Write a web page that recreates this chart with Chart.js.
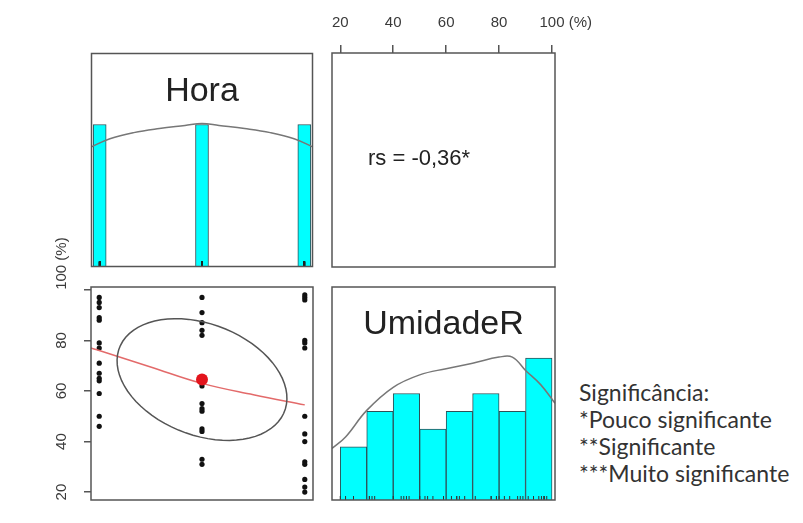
<!DOCTYPE html>
<html>
<head>
<meta charset="utf-8">
<script src="https://cdn.jsdelivr.net/npm/chart.js@4.4.1/dist/chart.umd.min.js"></script>
<style>
	body { margin: 0; background: #fff; }
	#figura { position: relative; width: 803px; height: 523px; overflow: hidden; background: #fff; }
	#figura canvas { position: absolute; }
	#nota { position: absolute; left: 579px; top: 379px; font: 23px Lato, sans-serif; line-height: 27px; color: #333; }
</style>
</head>
<body>
<div id="figura">
	<canvas id="painel_hora"></canvas>
	<canvas id="painel_correlacao"></canvas>
	<canvas id="painel_dispersao"></canvas>
	<canvas id="painel_umidade"></canvas>
	<div id="nota">Significância:<br>*Pouco significante<br>**Significante<br>***Muito significante</div>
</div>
<script>
// Níveis de hora e umidade relativa (%) observada em cada um.
const horaNiveis = [ 9, 12, 15 ];
const umidadeHora9 = [ 97, 95, 93, 89, 88, 79, 77, 71, 67, 65, 64, 59, 50, 46 ];
const umidadeHora12 = [ 97, 91, 87, 84, 82, 64, 62, 55, 53, 52, 45, 44, 33, 31 ];
const umidadeHora15 = [ 98, 97, 96, 80, 79, 77, 50, 43, 40, 32, 31, 25, 22, 20 ];

// Histograma da UmidadeR : centro das classes de 10 % e contagens.
const classesUmidade = [ 25, 35, 45, 55, 65, 75, 85, 95 ];
const contagemUmidade = [ 3, 5, 6, 4, 5, 6, 5, 8 ];

// Curvas de densidade (em escala de contagem).
const densidadeHoraX = [ 8.76, 9.3, 10, 10.75, 11.5, 12, 12.5, 13.25, 14, 14.7, 15.24 ];
const densidadeHoraY = [ 11.8, 12.6, 13.2, 13.6, 13.9, 14.1, 13.9, 13.6, 13.2, 12.6, 11.8 ];
const densidadeUmidadeX = [ 16.88, 22, 30, 40, 50, 60, 70, 80, 85, 90, 95.7, 101.12 ];
const densidadeUmidadeY = [ 2.9, 3.55, 5.05, 6.35, 7.05, 7.4, 7.7, 8.05, 8.05, 7.3, 6.5, 5.45 ];

// Curva suavizada (lowess) de UmidadeR em função da hora.
const lowessHora = [ 8.76, 9, 10.5, 12, 13.5, 15 ];
const lowessUmidade = [ 77, 76, 69.5, 63, 58.5, 54.5 ];

// Eixos.
const ticksUmidade = [ 20, 40, 60, 80, 100 ];
const unidade = "(%)";
const limitesHora = [ 8.76, 15.24 ];
const limitesUmidade = [ 16.88, 101.12 ];
const textoCorrelacao = "rs = -0,36*";

const grupos = [ umidadeHora9, umidadeHora12, umidadeHora15 ];
const todasHoras = [];
const todasUmidades = [];
grupos.forEach( ( grupo, i ) => grupo.forEach( v => { todasHoras.push( horaNiveis[ i ] ); todasUmidades.push( v ); } ) );

const media = a => a.reduce( ( s, v ) => s + v, 0 ) / a.length;
const desvio = a => { const m = media( a ); return Math.sqrt( a.reduce( ( s, v ) => s + ( v - m ) ** 2, 0 ) / ( a.length - 1 ) ); };
const pearson = ( x, y ) =>
{
	const mx = media( x ), my = media( y );
	let s = 0;
	x.forEach( ( v, i ) => { s += ( v - mx ) * ( y[ i ] - my ); } );
	return s / ( x.length - 1 ) / ( desvio( x ) * desvio( y ) );
};

Chart.defaults.font.family = "'Liberation Sans', Arial, sans-serif";
Chart.defaults.animation = false;
Chart.defaults.responsive = false;
Chart.defaults.events = [];
Chart.defaults.plugins.legend.display = false;
Chart.defaults.plugins.tooltip.enabled = false;

const cinzaMoldura = "#555";
const cinzaTexto = "#3a3a3a";
const fonteEixo = "15px 'Liberation Sans', Arial, sans-serif";

// Posiciona e dimensiona o canvas de um painel.
function painel( id, left, top, width, height )
{
	const canvas = document.getElementById( id );
	canvas.width = width;
	canvas.height = height;
	canvas.style.left = left + "px";
	canvas.style.top = top + "px";
	return canvas;
}

// Moldura em volta da área do gráfico.
const moldura = {
	id: "moldura",
	afterDraw( chart )
	{
		const { ctx, chartArea: a } = chart;
		ctx.save();
		ctx.strokeStyle = cinzaMoldura;
		ctx.lineWidth = 1.5;
		ctx.strokeRect( a.left, a.top, a.right - a.left, a.bottom - a.top );
		ctx.restore();
	}
};

// Texto livre dentro do painel.
function texto( conteudo, fonte, dx, dy, alinhamento )
{
	return {
		id: "texto",
		afterDraw( chart )
		{
			const { ctx, chartArea: a } = chart;
			const x0 = alinhamento === "center" ? ( a.left + a.right ) / 2 : a.left;
			ctx.save();
			ctx.font = fonte;
			ctx.fillStyle = "#222";
			ctx.textAlign = alinhamento;
			ctx.textBaseline = "middle";
			ctx.fillText( conteudo, x0 + dx, a.top + dy );
			ctx.restore();
		}
	};
}

const pontos = ( xs, ys ) => xs.map( ( x, i ) => ( { x: x, y: ys[ i ] } ) );
const marcasRug = ( valores ) => valores.map( v => ( { x: v, y: 0 } ) );
const fixaTicks = scale => { scale.ticks = ticksUmidade.map( v => ( { value: v } ) ); };

//
// Painel superior esquerdo : histograma da Hora.
//
new Chart( painel( "painel_hora", 85, 47, 234, 226 ),
	{
		type: "bar",
		data: {
			datasets: [
				{
					type: "line",
					data: pontos( densidadeHoraX, densidadeHoraY ),
					borderColor: "#777",
					borderWidth: 1.5,
					pointRadius: 0,
					tension: 0.4,
					order: 1
				},
				{
					type: "scatter",
					data: marcasRug( todasHoras ),
					pointStyle: "line",
					rotation: 90,
					radius: 5,
					borderColor: "#222",
					borderWidth: 1.5,
					clip: 0,
					order: 0
				},
				{
					data: horaNiveis.map( ( h, i ) => ( { x: h, y: grupos[ i ].length } ) ),
					backgroundColor: "#00ffff",
					borderColor: "#2f5057",
					borderWidth: 1,
					barThickness: 13,
					order: 2
				}
			]
		},
		options: {
			layout: { padding: 6 },
			scales: {
				x: { type: "linear", offset: false, min: limitesHora[ 0 ], max: limitesHora[ 1 ], display: false },
				y: { min: 0, max: 21, display: false }
			}
		},
		plugins: [ moldura, texto( "Hora", "34px 'Liberation Sans', Arial, sans-serif", 0, 38, "center" ) ]
	} );

//
// Painel superior direito : coeficiente de Spearman e eixo da umidade.
//
const rotulosTopo = {
	id: "rotulosTopo",
	afterDraw( chart )
	{
		const { ctx } = chart;
		const escala = chart.scales.x;
		ctx.save();
		ctx.font = fonteEixo;
		ctx.fillStyle = cinzaTexto;
		ctx.textAlign = "left";
		ctx.textBaseline = "middle";
		ticksUmidade.forEach( ( v, i ) =>
		{
			const numero = String( v );
			const largura = ctx.measureText( numero ).width;
			const ultimo = i === ticksUmidade.length - 1;
			ctx.fillText( ultimo ? numero + " " + unidade : numero, escala.getPixelForValue( v ) - largura / 2, 23 );
		} );
		ctx.restore();
	}
};

new Chart( painel( "painel_correlacao", 320, 0, 290, 275 ),
	{
		type: "scatter",
		data: { datasets: [ { data: [] } ] },
		options: {
			layout: { padding: { left: 12, top: 0, right: 55, bottom: 8 } },
			scales: {
				x: {
					type: "linear",
					position: "top",
					min: limitesUmidade[ 0 ],
					max: limitesUmidade[ 1 ],
					afterBuildTicks: fixaTicks,
					afterFit: scale => { scale.height = 53; },
					grid: { drawOnChartArea: false, tickLength: 8, color: cinzaMoldura, lineWidth: 1.5 },
					border: { display: false },
					ticks: { display: false }
				},
				y: { min: 0, max: 1, display: false }
			}
		},
		plugins: [ moldura, rotulosTopo, texto( textoCorrelacao, "22px 'Liberation Sans', Arial, sans-serif", 36, 106, "left" ) ]
	} );

//
// Painel inferior esquerdo : dispersão, elipse de correlação e lowess.
//
const rotulosEsquerda = {
	id: "rotulosEsquerda",
	afterDraw( chart )
	{
		const { ctx } = chart;
		const escala = chart.scales.y;
		ctx.save();
		ctx.font = fonteEixo;
		ctx.fillStyle = cinzaTexto;
		ctx.textBaseline = "middle";
		ticksUmidade.forEach( ( v, i ) =>
		{
			const ultimo = i === ticksUmidade.length - 1;
			ctx.save();
			ctx.translate( 22, escala.getPixelForValue( v ) );
			ctx.rotate( -Math.PI / 2 );
			ctx.textAlign = ultimo ? "left" : "center";
			ctx.fillText( ultimo ? v + " " + unidade : String( v ), 0, 0 );
			ctx.restore();
		} );
		ctx.restore();
	}
};

// Elipse de 1 desvio padrão, à maneira de pairs.panels.
const elipse = {
	id: "elipse",
	afterDatasetsDraw( chart )
	{
		const { ctx } = chart;
		const sx = chart.scales.x, sy = chart.scales.y;
		const xm = media( todasHoras ), ym = media( todasUmidades );
		const xs = desvio( todasHoras ), ys = desvio( todasUmidades );
		const r = pearson( todasHoras, todasUmidades );
		const theta = ( r === 0 ? 1 : Math.sign( r ) ) / Math.SQRT2;
		const s1 = Math.sqrt( 1 + r ), s2 = Math.sqrt( 1 - r );
		ctx.save();
		ctx.strokeStyle = cinzaMoldura;
		ctx.lineWidth = 1.5;
		ctx.beginPath();
		for ( let k = 0; k <= 72; k++ )
		{
			const a = k * 2 * Math.PI / 72;
			const ex = Math.cos( a ) * s1 * theta - Math.sin( a ) * s2 * theta;
			const ey = Math.cos( a ) * s1 * theta + Math.sin( a ) * s2 * theta;
			const px = sx.getPixelForValue( ex * xs + xm );
			const py = sy.getPixelForValue( ey * ys + ym );
			if ( k === 0 ) ctx.moveTo( px, py ); else ctx.lineTo( px, py );
		}
		ctx.stroke();
		ctx.restore();
	}
};

new Chart( painel( "painel_dispersao", 40, 225, 290, 285 ),
	{
		type: "scatter",
		data: {
			datasets: [
				{
					data: [ { x: media( todasHoras ), y: media( todasUmidades ) } ],
					backgroundColor: "#e3141c",
					borderWidth: 0,
					pointRadius: 6,
					order: 0
				},
				{
					type: "line",
					data: pontos( lowessHora, lowessUmidade ),
					borderColor: "#e36a6a",
					borderWidth: 1.5,
					pointRadius: 0,
					tension: 0.4,
					order: 1
				},
				{
					data: pontos( todasHoras, todasUmidades ),
					backgroundColor: "#111",
					borderWidth: 0,
					pointRadius: 2.6,
					order: 2
				}
			]
		},
		options: {
			layout: { padding: { left: 0, top: 62, right: 17, bottom: 10 } },
			scales: {
				x: { type: "linear", min: limitesHora[ 0 ], max: limitesHora[ 1 ], display: false },
				y: {
					position: "left",
					min: limitesUmidade[ 0 ],
					max: limitesUmidade[ 1 ],
					afterBuildTicks: fixaTicks,
					afterFit: scale => { scale.width = 51; },
					grid: { drawOnChartArea: false, tickLength: 7, color: cinzaMoldura, lineWidth: 1.5 },
					border: { display: false },
					ticks: { display: false }
				}
			}
		},
		plugins: [ elipse, moldura, rotulosEsquerda ]
	} );

//
// Painel inferior direito : histograma da UmidadeR.
//
new Chart( painel( "painel_umidade", 326, 281, 235, 225 ),
	{
		type: "bar",
		data: {
			datasets: [
				{
					type: "line",
					data: pontos( densidadeUmidadeX, densidadeUmidadeY ),
					borderColor: "#777",
					borderWidth: 1.5,
					pointRadius: 0,
					tension: 0.4,
					order: 1
				},
				{
					type: "scatter",
					data: marcasRug( todasUmidades ),
					pointStyle: "line",
					rotation: 90,
					radius: 4,
					borderColor: "#333",
					borderWidth: 1,
					clip: 0,
					order: 0
				},
				{
					data: pontos( classesUmidade, contagemUmidade ),
					backgroundColor: "#00ffff",
					borderColor: "#2f5057",
					borderWidth: 1,
					barPercentage: 1,
					categoryPercentage: 1,
					order: 2
				}
			]
		},
		options: {
			layout: { padding: 6 },
			scales: {
				x: { type: "linear", offset: false, min: limitesUmidade[ 0 ], max: limitesUmidade[ 1 ], display: false, afterBuildTicks: fixaTicks },
				y: { min: 0, max: 12, display: false }
			}
		},
		plugins: [ moldura, texto( "UmidadeR", "34px 'Liberation Sans', Arial, sans-serif", 0, 38, "center" ) ]
	} );
</script>
</body>
</html>
